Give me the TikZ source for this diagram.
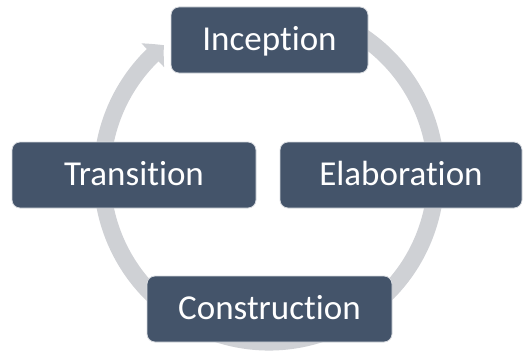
\documentclass[tikz,border=0pt]{standalone}
\usepackage{fontspec}
\setmainfont{Carlito}[Ligatures=NoCommon]
\usetikzlibrary{arrows.meta,bending}
\definecolor{boxfill}{RGB}{68,84,106}
\definecolor{ringgray}{RGB}{207,209,213}
\definecolor{boxline}{RGB}{215,218,223}
\begin{document}
\begin{tikzpicture}[x=1pt,y=1pt,
  phasebox/.style={rectangle, rounded corners=8pt, fill=boxfill, draw=boxline,
    line width=0.8pt, text=white, font=\fontsize{35}{40}\selectfont,
    minimum height=66pt, inner sep=0pt, text height=23pt, text depth=3pt},
  ring/.style={draw=ringgray, line width=17pt}]
\useasboundingbox (0,0) rectangle (526,-353);
\coordinate (C) at (269,-175);
% cycle ring with arrow head
\draw[ring, -{Triangle[length=15pt,width=32pt,bend]}]
  ([shift={(70:167)}]C) arc[start angle=70, end angle=-231, radius=167];
% phases
\node[phasebox, minimum width=197pt] (inception) at (269.5,-40) {Inception};
\node[phasebox, minimum width=242pt] (elaboration) at (401,-175) {Elaboration};
\node[phasebox, minimum width=245pt] (construction) at (269.5,-309) {Construction};
\node[phasebox, minimum width=244pt] (transition) at (134,-175) {Transition};
\end{tikzpicture}
\end{document}
